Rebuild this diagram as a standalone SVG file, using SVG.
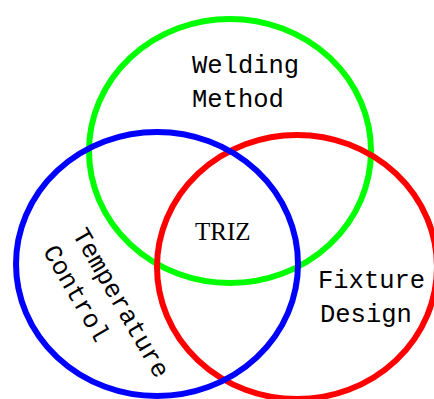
<svg xmlns="http://www.w3.org/2000/svg" width="434" height="399" viewBox="0 0 434 399">
<style>
.c{fill:none;stroke-width:6}
.t{font-family:"Liberation Mono","DejaVu Sans Mono",monospace;font-size:25.5px;fill:#000}
.s{font-family:"Liberation Serif","Times New Roman",serif;font-size:25px;fill:#000}
</style>
<rect width="434" height="399" fill="#fff"/>
<g id="circles">
<ellipse id="welding-circle" class="c" cx="230" cy="151" rx="141" ry="132" stroke="#00ff00"/>
<ellipse id="fixture-circle" class="c" cx="297" cy="267" rx="140" ry="132" stroke="#ff0000"/>
<ellipse id="temperature-circle" class="c" cx="157" cy="264" rx="141" ry="132" stroke="#0000ff"/>
</g>
<g id="welding">
<text class="t" x="192" y="73">Welding</text>
<text class="t" x="192" y="107">Method</text>
</g>
<g id="triz">
<text class="s" x="195" y="240">TRIZ</text>
</g>
<g id="fixture">
<text class="t" x="318" y="288">Fixture</text>
<text class="t" x="320" y="322">Design</text>
</g>
<g id="temperature" transform="translate(72,234) rotate(60)">
<text class="t" x="0" y="0">Temperature</text>
<text class="t" x="0" y="34">Control</text>
</g>
</svg>
